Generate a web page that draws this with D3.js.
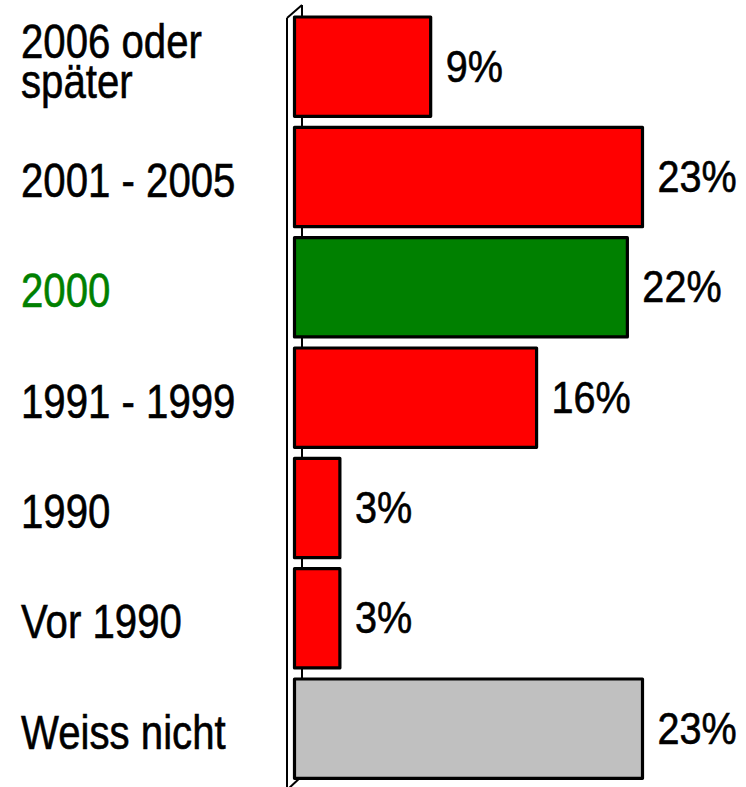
<!DOCTYPE html>
<html>
<head>
<meta charset="utf-8">
<script src="https://cdn.jsdelivr.net/npm/d3@7"></script>
<style>
  body { margin: 0; background: #fff; }
  svg { display: block; }
  .cat, .val { font-family: "Liberation Sans Narrow", "Arial Narrow", "Liberation Sans", sans-serif; }
</style>
</head>
<body>
<script>
// data
var categories = ["2006 oder später", "2001 - 2005", "2000", "1991 - 1999", "1990", "Vor 1990", "Weiss nicht"];
var values = [9, 23, 22, 16, 3, 3, 23];
var barColors = ["#ff0000", "#ff0000", "#008000", "#ff0000", "#ff0000", "#ff0000", "#c0c0c0"];
var labelColors = ["#000", "#000", "#008000", "#000", "#000", "#000", "#000"];

var width = 746, height = 787;
// no narrow font installed, squeeze the sans instead
var catNarrow = 0.82, valNarrow = 0.88;

let svg = d3.select("body").append("svg")
    .attr("width", width)
    .attr("height", height);

var x = d3.scaleLinear()
    .domain([0, 23])
    .range([294.5, 642.5]);

var y = d3.scaleBand()
    .domain(categories)
    .range([11.5, 11.5 + 7 * 110.33])
    .paddingInner(0.1)
    .paddingOuter(0.05);

// the slanted axis wall
var wallBack = 302, wallFront = 287;
var wall = svg.append("g")
    .attr("fill", "none")
    .attr("stroke", "#000")
    .attr("stroke-width", 2);

wall.append("line")
    .attr("x1", wallFront).attr("y1", 18)
    .attr("x2", wallFront).attr("y2", height + 5);
wall.append("line")
    .attr("x1", wallBack).attr("y1", 5)
    .attr("x2", wallBack).attr("y2", 776);
wall.append("line")
    .attr("x1", wallFront).attr("y1", 18)
    .attr("x2", wallBack).attr("y2", 5);
wall.append("line")
    .attr("x1", wallFront).attr("y1", 790)
    .attr("x2", wallBack).attr("y2", 776);

// bars
var bars = svg.selectAll(".bar")
    .data(values)
    .enter().append("g")
    .attr("class", "bar");

bars.append("rect")
    .attr("x", x(0))
    .attr("y", function(d, i) { return y(categories[i]); })
    .attr("width", function(d) { return x(d) - x(0); })
    .attr("height", y.bandwidth())
    .attr("fill", function(d, i) { return barColors[i]; })
    .attr("stroke", "#000")
    .attr("stroke-width", 3.2)
    .attr("stroke-linejoin", "round");

// value labels
bars.append("text")
    .attr("class", "val")
    .text(function(d) { return d + "%"; })
    .attr("transform", function(d, i) {
        return "translate(" + (x(d) + 15) + "," + (y(categories[i]) + y.bandwidth() / 2 + 15) + ") scale(" + valNarrow + ",1)";
    })
    .attr("font-size", 45)
    .attr("fill", "#000")
    .attr("stroke", "#000")
    .attr("stroke-width", 0.6);

// category labels
var cats = svg.selectAll(".cat")
    .data(categories)
    .enter().append("text")
    .attr("class", "cat")
    .attr("transform", function(d) {
        return "translate(21," + (y(d) + y.bandwidth() / 2 + 20) + ") scale(" + catNarrow + ",1)";
    })
    .attr("font-size", 49)
    .attr("fill", function(d, i) { return labelColors[i]; })
    .attr("stroke", function(d, i) { return labelColors[i]; })
    .attr("stroke-width", 0.6);

cats.each(function(d) {
    var t = d3.select(this);
    if (d == "2006 oder später") {
        t.attr("transform", "translate(21,58) scale(" + catNarrow + ",1)");
        t.append("tspan").attr("x", 0).attr("y", 0).text("2006 oder");
        t.append("tspan").attr("x", 0).attr("y", 40).text("später");
    } else {
        t.text(d);
    }
});
</script>
</body>
</html>
